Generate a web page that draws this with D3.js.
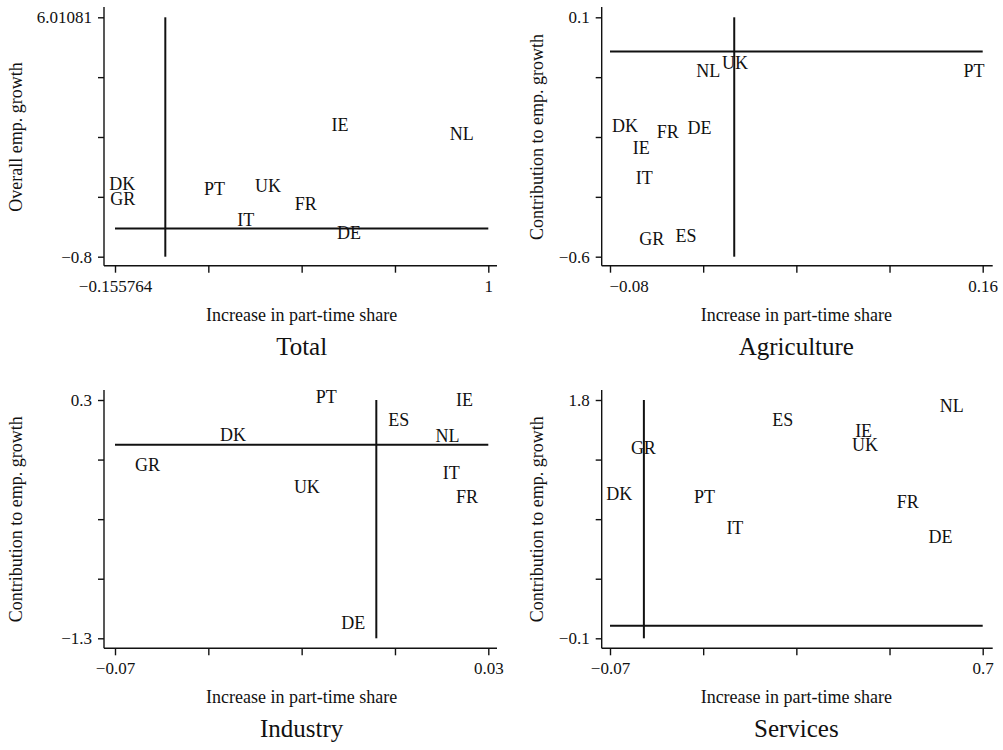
<!DOCTYPE html>
<html>
<head>
<meta charset="utf-8">
<script src="https://cdn.jsdelivr.net/npm/d3@7/dist/d3.min.js"></script>
<style>
  body { margin: 0; background: #fff; }
  svg { display: block; }
  text { font-family: "Liberation Serif", "Times New Roman", serif; fill: #111; }
</style>
</head>
<body>
<svg id="chart" width="1003" height="750"></svg>
<script>
// ---- data ----
const totalCountries = ["DK", "GR", "PT", "UK", "IT", "FR", "IE", "DE", "NL"];
const totalX = [-0.133, -0.132, 0.152, 0.318, 0.249, 0.435, 0.541, 0.569, 0.918];
const totalY = [1.288, 0.842, 1.135, 1.231, 0.244, 0.719, 2.947, -0.106, 2.699];

const agriCountries = ["NL", "UK", "PT", "DK", "FR", "DE", "IE", "IT", "GR", "ES"];
const agriX = [-0.0167, 0.0005, 0.1544, -0.0703, -0.0428, -0.0224, -0.0598, -0.0579, -0.0531, -0.0311];
const agriY = [-0.056, -0.032, -0.056, -0.217, -0.2345, -0.224, -0.280, -0.368, -0.548, -0.539];

const indCountries = ["PT", "IE", "ES", "DK", "NL", "GR", "IT", "UK", "FR", "DE"];
const indX = [-0.0134, 0.0236, 0.0060, -0.0384, 0.0191, -0.0613, 0.0201, -0.0186, 0.0243, -0.0062];
const indY = [0.322, 0.300, 0.166, 0.065, 0.060, -0.136, -0.185, -0.284, -0.351, -1.195];

const servCountries = ["NL", "ES", "IE", "UK", "GR", "DK", "PT", "FR", "IT", "DE"];
const servX = [0.636, 0.287, 0.454, 0.457, -0.001, -0.051, 0.125, 0.545, 0.188, 0.613];
const servY = [1.755, 1.646, 1.558, 1.441, 1.420, 1.050, 1.027, 0.989, 0.779, 0.710];

// axis ranges and their end labels
const totalXDomain = [-0.155764, 1], totalYDomain = [-0.8, 6.01081];
const agriXDomain = [-0.08, 0.16], agriYDomain = [-0.6, 0.1];
const indXDomain = [-0.07, 0.03], indYDomain = [-1.3, 0.3];
const servXDomain = [-0.07, 0.7], servYDomain = [-0.1, 1.8];

const totalXLabels = ["\u22120.155764", "1"], totalYLabels = ["\u22120.8", "6.01081"];
const agriXLabels = ["\u22120.08", "0.16"], agriYLabels = ["\u22120.6", "0.1"];
const indXLabels = ["\u22120.07", "0.03"], indYLabels = ["\u22121.3", "0.3"];
const servXLabels = ["\u22120.07", "0.7"], servYLabels = ["\u22120.1", "1.8"];

const panelTitles = ["Total", "Agriculture", "Industry", "Services"];
const xTitle = "Increase in part-time share";
const yTitles = ["Overall emp. growth", "Contribution to emp. growth",
                 "Contribution to emp. growth", "Contribution to emp. growth"];

// ---- layout ----
const cols = [
  { axisX: 104, range: [115, 488.3], right: 497, yTitleX: 22 },
  { axisX: 601.7, range: [610, 982.7], right: 992.7, yTitleX: 543 }
];
const rows = [
  { axisY: 265.7, range: [256.7, 17.3], top: 7 },
  { axisY: 648.3, range: [638.3, 400], top: 390 }
];

const panels = [
  { c: 0, r: 0, names: totalCountries, xs: totalX, ys: totalY, xd: totalXDomain, yd: totalYDomain, xl: totalXLabels, yl: totalYLabels },
  { c: 1, r: 0, names: agriCountries, xs: agriX, ys: agriY, xd: agriXDomain, yd: agriYDomain, xl: agriXLabels, yl: agriYLabels, firstStart: true },
  { c: 0, r: 1, names: indCountries, xs: indX, ys: indY, xd: indXDomain, yd: indYDomain, xl: indXLabels, yl: indYLabels },
  { c: 1, r: 1, names: servCountries, xs: servX, ys: servY, xd: servXDomain, yd: servYDomain, xl: servXLabels, yl: servYLabels }
];

const svg = d3.select("#chart");
const ink = "#111";

panels.forEach((p, i) => {
  const col = cols[p.c], row = rows[p.r];
  const x = d3.scaleLinear().domain(p.xd).range(col.range);
  const y = d3.scaleLinear().domain(p.yd).range(row.range);
  const g = svg.append("g");

  const xTicks = d3.range(5).map(k => p.xd[0] + k * (p.xd[1] - p.xd[0]) / 4);
  const yTicks = d3.range(5).map(k => p.yd[0] + k * (p.yd[1] - p.yd[0]) / 4);

  // frame lines (axis lines reach past the last tick, Stata style)
  g.append("line").attr("x1", col.axisX).attr("x2", col.right)
    .attr("y1", row.axisY).attr("y2", row.axisY)
    .attr("stroke", ink).attr("stroke-width", 1.4);
  g.append("line").attr("x1", col.axisX).attr("x2", col.axisX)
    .attr("y1", row.top).attr("y2", row.axisY)
    .attr("stroke", ink).attr("stroke-width", 1.4);

  const xa = g.append("g").attr("transform", `translate(0,${row.axisY})`)
    .call(d3.axisBottom(x).tickValues(xTicks).tickSize(7).tickPadding(7)
      .tickFormat((d, k) => k === 0 ? p.xl[0] : k === 4 ? p.xl[1] : ""));
  const ya = g.append("g").attr("transform", `translate(${col.axisX},0)`)
    .call(d3.axisLeft(y).tickValues(yTicks).tickSize(6).tickPadding(6)
      .tickFormat((d, k) => k === 0 ? p.yl[0] : k === 4 ? p.yl[1] : ""));

  [xa, ya].forEach(a => {
    a.select(".domain").remove();
    a.selectAll(".tick line").attr("stroke", ink).attr("stroke-width", 1.4);
    a.selectAll(".tick text").style("font-family", "Liberation Serif, serif")
      .style("font-size", "17px").attr("fill", ink);
  });
  if (p.firstStart) {
    xa.select(".tick text").attr("text-anchor", "start").attr("x", -1);
  }

  // reference lines at zero
  g.append("line").attr("x1", x(0)).attr("x2", x(0))
    .attr("y1", row.range[0]).attr("y2", row.range[1])
    .attr("stroke", ink).attr("stroke-width", 2);
  g.append("line").attr("x1", col.range[0]).attr("x2", col.range[1])
    .attr("y1", y(0)).attr("y2", y(0))
    .attr("stroke", ink).attr("stroke-width", 2);

  // country labels
  g.selectAll("text.lab").data(p.names).enter().append("text")
    .attr("class", "lab")
    .attr("x", (d, k) => x(p.xs[k]))
    .attr("y", (d, k) => y(p.ys[k]))
    .attr("dy", "0.35em")
    .attr("text-anchor", "middle")
    .style("font-size", "18px")
    .text(d => d);

  // axis titles
  const midX = (col.range[0] + col.range[1]) / 2;
  const midY = (row.range[0] + row.range[1]) / 2;
  g.append("text").attr("x", midX).attr("y", row.axisY + 55)
    .attr("text-anchor", "middle").style("font-size", "18px").text(xTitle);
  g.append("text")
    .attr("transform", `translate(${col.yTitleX},${midY}) rotate(-90)`)
    .attr("text-anchor", "middle").style("font-size", "18px").text(yTitles[i]);
  g.append("text").attr("x", midX).attr("y", row.axisY + 89)
    .attr("text-anchor", "middle").style("font-size", "25px").text(panelTitles[i]);
});
</script>
</body>
</html>
